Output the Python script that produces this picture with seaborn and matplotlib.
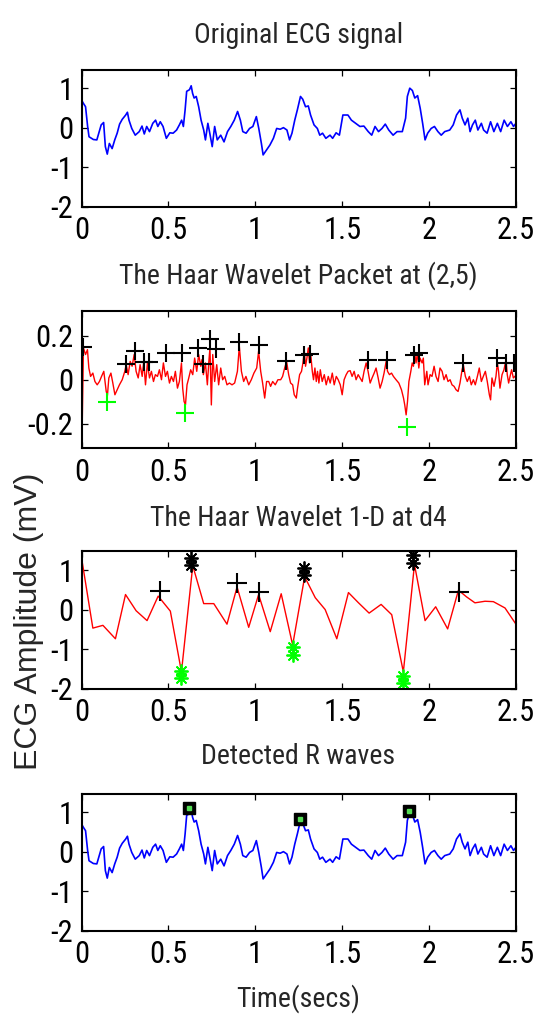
import matplotlib
matplotlib.use("Agg")
import matplotlib.pyplot as plt
from matplotlib import font_manager as fm
from matplotlib.textpath import TextPath
import seaborn as sns
import pandas as pd

# ---------------- data ----------------
ecg_t = [0.000, 0.010, 0.023, 0.035, 0.043, 0.068, 0.088, 0.102, 0.113, 0.127, 0.137, 0.148,
         0.160, 0.176, 0.191, 0.205, 0.219, 0.234, 0.254, 0.264, 0.273, 0.289, 0.309, 0.332,
         0.348, 0.361, 0.375, 0.391, 0.410, 0.426, 0.439, 0.453, 0.469, 0.488, 0.508, 0.527,
         0.547, 0.563, 0.576, 0.586, 0.596, 0.605, 0.621, 0.631, 0.639, 0.648, 0.660, 0.674,
         0.688, 0.703, 0.713, 0.727, 0.738, 0.752, 0.766, 0.781, 0.801, 0.820, 0.840, 0.859,
         0.879, 0.898, 0.914, 0.928, 0.947, 0.967, 0.986, 1.006, 1.020, 1.035, 1.045, 1.064,
         1.084, 1.104, 1.123, 1.143, 1.162, 1.182, 1.197, 1.211, 1.227, 1.242, 1.260, 1.273,
         1.289, 1.305, 1.318, 1.338, 1.357, 1.371, 1.387, 1.406, 1.430, 1.445, 1.465, 1.484,
         1.504, 1.533, 1.553, 1.578, 1.602, 1.625, 1.650, 1.670, 1.689, 1.709, 1.729, 1.748,
         1.768, 1.793, 1.816, 1.846, 1.865, 1.875, 1.889, 1.904, 1.918, 1.934, 1.949, 1.963,
         1.977, 1.992, 2.012, 2.031, 2.051, 2.070, 2.090, 2.119, 2.139, 2.158, 2.178, 2.191,
         2.207, 2.223, 2.236, 2.250, 2.266, 2.281, 2.301, 2.314, 2.334, 2.354, 2.373, 2.393,
         2.412, 2.432, 2.451, 2.471, 2.486, 2.500]
ecg_v = [0.70, 0.62, 0.53, 0.03, -0.23, -0.30, -0.31, -0.10, 0.07, 0.13, -0.48, -0.67,
         -0.40, -0.53, -0.31, -0.14, 0.09, 0.21, 0.32, 0.39, 0.19, -0.02, -0.19, -0.10,
         0.04, -0.16, 0.03, -0.10, 0.11, 0.19, 0.03, 0.15, 0.03, -0.27, -0.13, -0.14,
         -0.06, 0.07, 0.19, 0.03, 0.45, 0.92, 0.96, 1.06, 0.87, 0.75, 0.79, 0.53,
         0.19, -0.06, -0.31, 0.11, -0.14, -0.48, 0.03, -0.31, -0.19, -0.36, -0.10, 0.03,
         0.19, 0.41, 0.19, -0.10, -0.14, -0.02, 0.03, 0.28, -0.02, -0.40, -0.69, -0.57,
         -0.44, -0.27, -0.02, -0.04, 0.00, -0.06, -0.31, -0.14, 0.19, 0.45, 0.79, 0.72,
         0.53, 0.55, 0.32, 0.07, -0.02, -0.19, -0.14, -0.27, -0.19, -0.27, -0.13, -0.19,
         0.32, 0.32, 0.19, 0.11, 0.03, 0.04, -0.10, -0.19, 0.03, -0.10, -0.02, 0.09,
         -0.06, -0.19, -0.10, -0.10, 0.24, 0.79, 1.00, 0.94, 0.75, 0.81, 0.49, 0.11,
         -0.31, -0.14, -0.02, 0.03, -0.10, -0.19, -0.10, -0.06, 0.07, 0.32, 0.45, 0.24,
         0.07, 0.24, -0.10, 0.07, 0.19, -0.06, 0.11, -0.06, -0.14, 0.15, -0.10, 0.11,
         -0.10, 0.19, 0.03, 0.15, 0.03, 0.11]

pkt_t = [0.004, 0.011, 0.023, 0.034, 0.042, 0.052, 0.065, 0.077, 0.090, 0.103, 0.115, 0.128,
         0.142, 0.149, 0.157, 0.169, 0.180, 0.192, 0.205, 0.218, 0.234, 0.249, 0.257, 0.268,
         0.280, 0.291, 0.303, 0.314, 0.326, 0.337, 0.349, 0.358, 0.368, 0.379, 0.391, 0.402,
         0.414, 0.425, 0.437, 0.448, 0.460, 0.471, 0.483, 0.494, 0.506, 0.517, 0.529, 0.540,
         0.552, 0.563, 0.575, 0.582, 0.590, 0.598, 0.607, 0.617, 0.628, 0.640, 0.651, 0.663,
         0.674, 0.686, 0.693, 0.701, 0.713, 0.724, 0.732, 0.739, 0.747, 0.755, 0.766, 0.778,
         0.789, 0.801, 0.812, 0.824, 0.837, 0.851, 0.866, 0.881, 0.897, 0.908, 0.920, 0.933,
         0.946, 0.962, 0.977, 0.992, 1.008, 1.019, 1.031, 1.042, 1.054, 1.065, 1.077, 1.088,
         1.100, 1.115, 1.130, 1.146, 1.157, 1.169, 1.180, 1.192, 1.203, 1.215, 1.224, 1.236,
         1.243, 1.255, 1.266, 1.274, 1.282, 1.289, 1.297, 1.305, 1.312, 1.320, 1.328, 1.335,
         1.343, 1.351, 1.358, 1.366, 1.374, 1.385, 1.397, 1.408, 1.420, 1.431, 1.443, 1.454,
         1.466, 1.477, 1.489, 1.500, 1.511, 1.523, 1.534, 1.546, 1.557, 1.569, 1.580, 1.592,
         1.603, 1.615, 1.626, 1.638, 1.649, 1.661, 1.672, 1.684, 1.695, 1.707, 1.718, 1.730,
         1.741, 1.753, 1.761, 1.772, 1.784, 1.795, 1.810, 1.826, 1.841, 1.853, 1.860, 1.868,
         1.876, 1.884, 1.895, 1.903, 1.910, 1.918, 1.925, 1.933, 1.941, 1.948, 1.960, 1.967,
         1.975, 1.987, 1.994, 2.006, 2.017, 2.029, 2.040, 2.052, 2.063, 2.075, 2.086, 2.098,
         2.109, 2.121, 2.132, 2.144, 2.155, 2.167, 2.178, 2.190, 2.197, 2.209, 2.220, 2.232,
         2.243, 2.255, 2.266, 2.278, 2.289, 2.301, 2.312, 2.324, 2.335, 2.347, 2.354, 2.362,
         2.374, 2.385, 2.393, 2.400, 2.408, 2.420, 2.431, 2.443, 2.450, 2.458, 2.466, 2.475,
         2.485, 2.500]
pkt_v = [-0.197, 0.144, 0.114, 0.136, 0.053, 0.015, 0.030, -0.008, -0.023, -0.008, 0.015, 0.038,
         -0.053, -0.071, 0.008, 0.030, -0.015, -0.068, -0.045, -0.023, 0.000, 0.038, 0.068, 0.023,
         0.083, 0.061, 0.114, 0.038, 0.008, 0.068, 0.015, 0.083, -0.023, 0.076, 0.008, 0.038,
         -0.008, 0.023, 0.015, 0.045, 0.000, 0.076, 0.015, 0.038, -0.015, 0.015, -0.008, 0.038,
         -0.038, -0.008, 0.076, -0.038, -0.098, -0.114, -0.023, 0.008, 0.045, 0.023, 0.098, 0.038,
         0.114, 0.061, 0.091, 0.023, 0.076, -0.023, 0.076, 0.144, -0.114, 0.114, -0.008, 0.068,
         -0.023, 0.053, 0.000, 0.015, -0.023, -0.015, -0.023, -0.015, 0.038, 0.152, 0.038, -0.008,
         0.015, -0.023, 0.000, 0.030, 0.053, 0.129, 0.038, -0.015, -0.083, -0.008, -0.008, -0.030,
         -0.008, -0.023, 0.000, 0.000, 0.015, 0.053, 0.083, 0.023, -0.015, -0.023, -0.068, -0.083,
         -0.038, 0.023, 0.038, 0.076, 0.129, 0.061, 0.098, 0.144, 0.076, 0.106, 0.038, 0.000,
         0.053, -0.008, 0.038, -0.015, 0.045, -0.008, 0.023, -0.023, 0.015, -0.015, 0.030, -0.023,
         0.015, 0.000, -0.023, -0.068, 0.000, 0.023, 0.038, 0.041, 0.015, 0.038, 0.000, 0.023,
         0.008, -0.008, 0.038, 0.076, 0.038, -0.015, 0.008, 0.030, 0.053, 0.008, -0.038, -0.008,
         0.030, 0.083, 0.038, 0.023, 0.030, 0.015, 0.000, -0.015, -0.045, -0.083, -0.114, -0.159,
         -0.098, -0.008, 0.038, 0.076, 0.061, 0.114, 0.076, 0.121, 0.053, 0.098, 0.076, 0.098,
         -0.023, 0.038, -0.023, 0.023, 0.015, 0.061, 0.015, -0.008, 0.053, 0.038, 0.000, 0.023,
         -0.008, 0.000, -0.023, -0.030, -0.045, -0.053, -0.015, 0.045, 0.068, 0.015, -0.008, 0.015,
         -0.023, 0.000, -0.023, 0.015, 0.053, -0.008, 0.015, 0.038, -0.008, -0.068, -0.091, 0.008,
         -0.030, 0.015, 0.076, 0.038, -0.038, 0.023, 0.045, 0.091, 0.023, -0.015, 0.015, 0.045,
         0.008, 0.020]
pkt_max_t = [0.008, 0.257, 0.307, 0.358, 0.391, 0.487, 0.579, 0.670, 0.699, 0.741, 0.776, 0.908,
             1.019, 1.176, 1.282, 1.312, 1.646, 1.757, 1.914, 1.944, 2.197, 2.389, 2.443, 2.489]
pkt_max_v = [0.147, 0.071, 0.132, 0.080, 0.080, 0.121, 0.121, 0.144, 0.071, 0.182, 0.139, 0.171,
             0.159, 0.086, 0.114, 0.117, 0.091, 0.091, 0.114, 0.121, 0.076, 0.098, 0.076, 0.076]
pkt_min_t = [0.148, 0.598, 1.872]
pkt_min_v = [-0.103, -0.152, -0.212]

d4_t = [0.004, 0.065, 0.123, 0.195, 0.253, 0.314, 0.377, 0.441, 0.511, 0.575, 0.640, 0.703,
        0.761, 0.837, 0.895, 0.962, 1.019, 1.086, 1.149, 1.215, 1.284, 1.345, 1.402, 1.469,
        1.536, 1.594, 1.655, 1.724, 1.785, 1.852, 1.916, 1.977, 2.038, 2.107, 2.169, 2.216,
        2.264, 2.322, 2.370, 2.437, 2.500]
d4_v = [1.20, -0.47, -0.40, -0.74, 0.38, -0.03, -0.28, 0.34, -0.04, -1.58, 1.11, 0.15,
        0.15, -0.37, 0.57, -0.45, 0.38, -0.56, 0.40, -0.90, 0.83, 0.30, 0.00, -0.74,
        0.43, 0.17, -0.09, 0.13, -0.13, -1.58, 1.14, -0.28, 0.07, -0.49, 0.49, 0.32,
        0.17, 0.21, 0.20, 0.04, -0.37]
d4_plus_t = [0.450, 0.895, 1.019, 2.172]
d4_plus_v = [0.47, 0.66, 0.44, 0.45]
d4_star_t = [0.632, 1.278, 1.910]
d4_star_v = [1.22, 0.97, 1.28]
d4_min_t = [0.575, 1.215, 1.852]
d4_min_v = [-1.65, -1.05, -1.77]

r_t = [0.621, 1.260, 1.885]
r_v = [1.10, 0.815, 1.025]

x_ticks = [0, 0.5, 1, 1.5, 2, 2.5]
x_ticklabels = ["0", "0.5", "1", "1.5", "2", "2.5"]
y_ticks_big = [-2, -1, 0, 1]
y_ticklabels_big = ["-2", "-1", "0", "1"]
y_ticks_pkt = [-0.2, 0, 0.2]
y_ticklabels_pkt = ["-0.2", "0", "0.2"]

titles = ["Original ECG signal", "The Haar Wavelet Packet at (2,5)",
          "The Haar Wavelet 1-D at d4", "Detected R waves"]
x_label = "Time(secs)"
y_label = "ECG Amplitude (mV)"

# ---------------- style ----------------
sns.set_style("ticks")
plt.rcParams["axes.unicode_minus"] = False
plt.rcParams["xtick.direction"] = "in"
plt.rcParams["ytick.direction"] = "in"

SANS_TOKENS = ("nimbus sans", "liberation sans", "arial", "helvetica", "dejavu sans",
               "roboto", "open sans", "noto sans", "lato", "inter")
BAD_TOKENS = ("mono", "serif", "slab", "cjk", "symbol", "math")


def pick_narrow_font():
    """Pick an installed regular narrow/condensed sans face whose digits look closest
    to the narrow Helvetica of the reference."""
    best, best_score = None, None
    for f in fm.fontManager.ttflist:
        nm = f.name.lower()
        fn = f.fname.lower()
        if not any(t in nm for t in SANS_TOKENS):
            continue
        if any(t in nm for t in BAD_TOKENS) or "serif" in fn.replace("sans", "") and "sans" not in fn:
            continue
        narrowish = ("narrow" in nm or "condensed" in nm or "narrow" in fn or "condensed" in fn
                     or str(f.stretch).lower() in ("condensed", "semi-condensed"))
        if not narrowish or "extra" in nm or "ultra" in nm:
            continue
        if f.style != "normal" or f.weight not in (400, "normal", "regular", "book"):
            continue
        if "bold" in fn or "italic" in fn or "oblique" in fn or "light" in fn:
            continue
        try:
            prop = fm.FontProperties(fname=f.fname)
            w = TextPath((0, 0), "0.5", size=10, prop=prop).get_extents().width
            h = TextPath((0, 0), "0", size=10, prop=prop).get_extents().height
        except Exception:
            continue
        if h <= 0:
            continue
        score = abs(w / h - 1.45)
        if best_score is None or score < best_score:
            best, best_score = f.fname, score
    return best


narrow_file = pick_narrow_font()
if narrow_file:
    font_file = narrow_file
    scale = 1.0
else:
    font_file = fm.findfont(fm.FontProperties(family="Liberation Sans"))
    scale = 0.86


def fp(size):
    return fm.FontProperties(fname=font_file, size=size * scale)


fig = plt.figure(figsize=(5.33, 10.19), dpi=100)
left, width, height = 0.153, 0.815, 0.1345
bottoms = [0.7972, 0.5601, 0.3243, 0.0867]
title_y = [0.9575, 0.7220, 0.4840, 0.2505]
axes = [fig.add_axes([left, b, width, height]) for b in bottoms]

ecg_df = pd.DataFrame({"t": ecg_t, "v": ecg_v})
pkt_df = pd.DataFrame({"t": pkt_t, "v": pkt_v})
d4_df = pd.DataFrame({"t": d4_t, "v": d4_v})

BLUE, RED, GREEN = "#0000ff", "#ff0000", "#00ff00"

# panel 1
sns.lineplot(data=ecg_df, x="t", y="v", ax=axes[0], color=BLUE, lw=1.2,
             estimator=None, sort=False)
# panel 2
sns.lineplot(data=pkt_df, x="t", y="v", ax=axes[1], color=RED, lw=1.0,
             estimator=None, sort=False)
axes[1].plot(pkt_max_t, pkt_max_v, ls="none", marker="+", ms=13, mew=1.5, color="k")
axes[1].plot(pkt_min_t, pkt_min_v, ls="none", marker="+", ms=13, mew=1.5, color=GREEN)
# panel 3
sns.lineplot(data=d4_df, x="t", y="v", ax=axes[2], color=RED, lw=1.0,
             estimator=None, sort=False)
axes[2].plot(d4_plus_t, d4_plus_v, ls="none", marker="+", ms=15, mew=1.5, color="k")
for dv in (-0.09, 0.09):
    axes[2].plot(d4_star_t, [v + dv for v in d4_star_v], ls="none", marker=(8, 2, 0),
                 ms=10, mew=1.3, color="k")
    axes[2].plot(d4_min_t, [v + dv for v in d4_min_v], ls="none", marker=(8, 2, 0),
                 ms=10, mew=1.3, color=GREEN)
# panel 4
sns.lineplot(data=ecg_df, x="t", y="v", ax=axes[3], color=BLUE, lw=1.2,
             estimator=None, sort=False)
axes[3].plot(r_t, r_v, ls="none", marker="s", ms=8.5, mfc="k", mec="k", mew=1.0)
axes[3].plot(r_t, r_v, ls="none", marker="s", ms=2.5, mfc="#55dd55", mec="#55dd55")

for i, ax in enumerate(axes):
    ax.set_xlim(0, 2.5)
    if i == 1:
        ax.set_ylim(-0.31, 0.31)
        ax.set_yticks(y_ticks_pkt)
        ax.set_yticklabels(y_ticklabels_pkt, fontproperties=fp(22))
    else:
        ax.set_ylim(-2, 1.47)
        ax.set_yticks(y_ticks_big)
        ax.set_yticklabels(y_ticklabels_big, fontproperties=fp(22))
    ax.set_xticks(x_ticks)
    ax.set_xticklabels(x_ticklabels, fontproperties=fp(22))
    ax.set_xlabel("")
    ax.set_ylabel("")
    ax.tick_params(axis="both", which="major", direction="in", length=4, width=0.9,
                   top=True, right=True, colors="k")
    ax.tick_params(axis="x", pad=7)
    ax.tick_params(axis="y", pad=6)
    for sp in ax.spines.values():
        sp.set_visible(True)
        sp.set_linewidth(1.5)
        sp.set_color("k")
    fig.text(0.560, title_y[i], titles[i], ha="center", va="baseline", fontproperties=fp(20))

fig.text(0.560, 0.0118, x_label, ha="center", va="baseline", fontproperties=fp(20))
fig.text(0.055, 0.3906, y_label, rotation=90, ha="center", va="center", fontsize=23,
         family=["Liberation Sans", "DejaVu Sans"])

fig.savefig("out.png", dpi=100)
